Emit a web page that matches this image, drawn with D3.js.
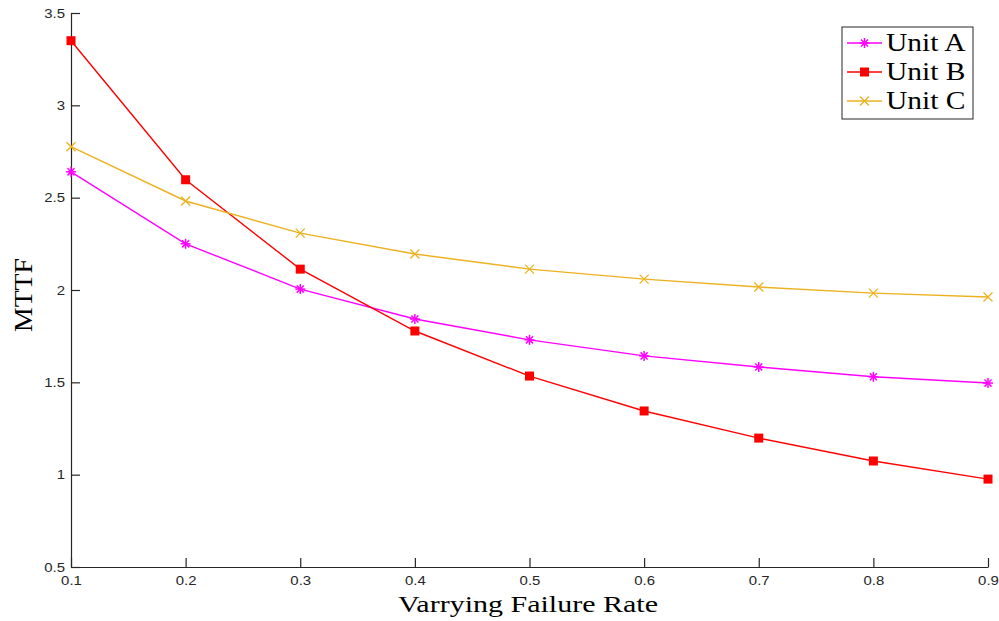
<!DOCTYPE html>
<html>
<head>
<meta charset="utf-8">
<script src="https://cdn.jsdelivr.net/npm/d3@7"></script>
<style>
  body { margin: 0; background: #fff; }
  svg { display: block; }
</style>
</head>
<body>
<div id="chart"></div>
<script>
const width = 999;
const height = 621;

const rates = [0.1, 0.2, 0.3, 0.4, 0.5, 0.6, 0.7, 0.8, 0.9];
const unitA = [2.64, 2.25, 2.005, 1.843, 1.73, 1.643, 1.583, 1.53, 1.496];
const unitB = [3.35, 2.597, 2.113, 1.778, 1.534, 1.345, 1.198, 1.074, 0.976];
const unitC = [2.776, 2.482, 2.308, 2.195, 2.113, 2.059, 2.016, 1.983, 1.962];
const yTicks = [0.5, 1, 1.5, 2, 2.5, 3, 3.5];

const series = [
    { name: "Unit A", values: unitA, color: "#ff00ff", marker: "star" },
    { name: "Unit B", values: unitB, color: "#ff0000", marker: "square" },
    { name: "Unit C", values: unitC, color: "#edb120", marker: "cross" }
];

const margin = { top: 13, right: 11, bottom: 54, left: 71 };
const stretch = 1.15; // the labels look a bit wide in the original

const x = d3.scaleLinear().domain([0.1, 0.9]).range([margin.left, width - margin.right]);
const y = d3.scaleLinear().domain([0.5, 3.5]).range([height - margin.bottom, margin.top]);

const svg = d3.select("#chart").append("svg")
    .attr("width", width)
    .attr("height", height);

// axes, ticks inward like matlab
const xAxis = svg.append("g")
    .attr("transform", `translate(0,${y(0.5)})`)
    .call(d3.axisBottom(x).tickValues(rates).tickSizeInner(-9).tickSizeOuter(0).tickPadding(9).tickFormat(d3.format(".1f")));

const yAxis = svg.append("g")
    .attr("transform", `translate(${x(0.1)},0)`)
    .call(d3.axisLeft(y).tickValues(yTicks).tickSizeInner(-9).tickSizeOuter(0).tickPadding(6).tickFormat(d => d));

[xAxis, yAxis].forEach(ax => {
    ax.select(".domain").attr("stroke", "#262626").attr("stroke-width", 1.2);
    ax.selectAll(".tick line").attr("stroke", "#262626").attr("stroke-width", 1.2);
    ax.selectAll(".tick text")
        .attr("fill", "#262626")
        .style("font-family", "'Liberation Sans', Arial, sans-serif")
        .style("font-size", "13px");
});
xAxis.selectAll(".tick text").attr("transform", `scale(${stretch},1)`);
yAxis.selectAll(".tick text").attr("x", -6 / stretch).attr("transform", `scale(${stretch},1)`);

// labels
svg.append("text")
    .attr("x", 528)
    .attr("y", 612)
    .attr("text-anchor", "middle")
    .attr("textLength", 260)
    .attr("lengthAdjust", "spacingAndGlyphs")
    .style("font-family", "'Liberation Serif', 'Times New Roman', serif")
    .style("font-size", "23px")
    .text("Varrying Failure Rate");

svg.append("text")
    .attr("transform", "translate(32,295) rotate(-90)")
    .attr("text-anchor", "middle")
    .attr("textLength", 74)
    .attr("lengthAdjust", "spacingAndGlyphs")
    .style("font-family", "'Liberation Serif', 'Times New Roman', serif")
    .style("font-size", "25px")
    .text("MTTF");

const line = d3.line()
    .x((d, i) => x(rates[i]))
    .y(d => y(d));

function drawMarker(g, type, color) {
    if (type === "square") {
        g.append("rect").attr("x", -4.5).attr("y", -4.5).attr("width", 9).attr("height", 9)
            .attr("fill", color);
    } else if (type === "star") {
        const r = 5;
        [0, 45, 90, 135].forEach(a => {
            const rad = a * Math.PI / 180;
            g.append("line")
                .attr("x1", -r * Math.cos(rad)).attr("y1", -r * Math.sin(rad))
                .attr("x2", r * Math.cos(rad)).attr("y2", r * Math.sin(rad))
                .attr("stroke", color).attr("stroke-width", 1.5);
        });
    } else {
        const r = 4.5;
        g.append("path")
            .attr("d", `M${-r},${-r}L${r},${r}M${-r},${r}L${r},${-r}`)
            .attr("stroke", color).attr("stroke-width", 1.3);
    }
}

series.forEach(s => {
    svg.append("path")
        .datum(s.values)
        .attr("fill", "none")
        .attr("stroke", s.color)
        .attr("stroke-width", 1.4)
        .attr("d", line);

    s.values.forEach((v, i) => {
        const g = svg.append("g").attr("transform", `translate(${x(rates[i])},${y(v)})`);
        drawMarker(g, s.marker, s.color);
    });
});

// legend
const legend = svg.append("g").attr("transform", "translate(842,27)");
legend.append("rect")
    .attr("width", 131).attr("height", 92)
    .attr("fill", "#fff")
    .attr("stroke", "#262626")
    .attr("stroke-width", 1);

series.forEach((s, i) => {
    const cy = 16 + i * 29;
    legend.append("line")
        .attr("x1", 5).attr("x2", 40).attr("y1", cy).attr("y2", cy)
        .attr("stroke", s.color).attr("stroke-width", 1.4);
    const g = legend.append("g").attr("transform", `translate(22.5,${cy})`);
    drawMarker(g, s.marker, s.color);
    legend.append("text")
        .attr("transform", `translate(44,${cy + 8}) scale(1.18,1)`)
        .style("font-family", "'Liberation Serif', 'Times New Roman', serif")
        .style("font-size", "25px")
        .text(s.name);
});
</script>
</body>
</html>
